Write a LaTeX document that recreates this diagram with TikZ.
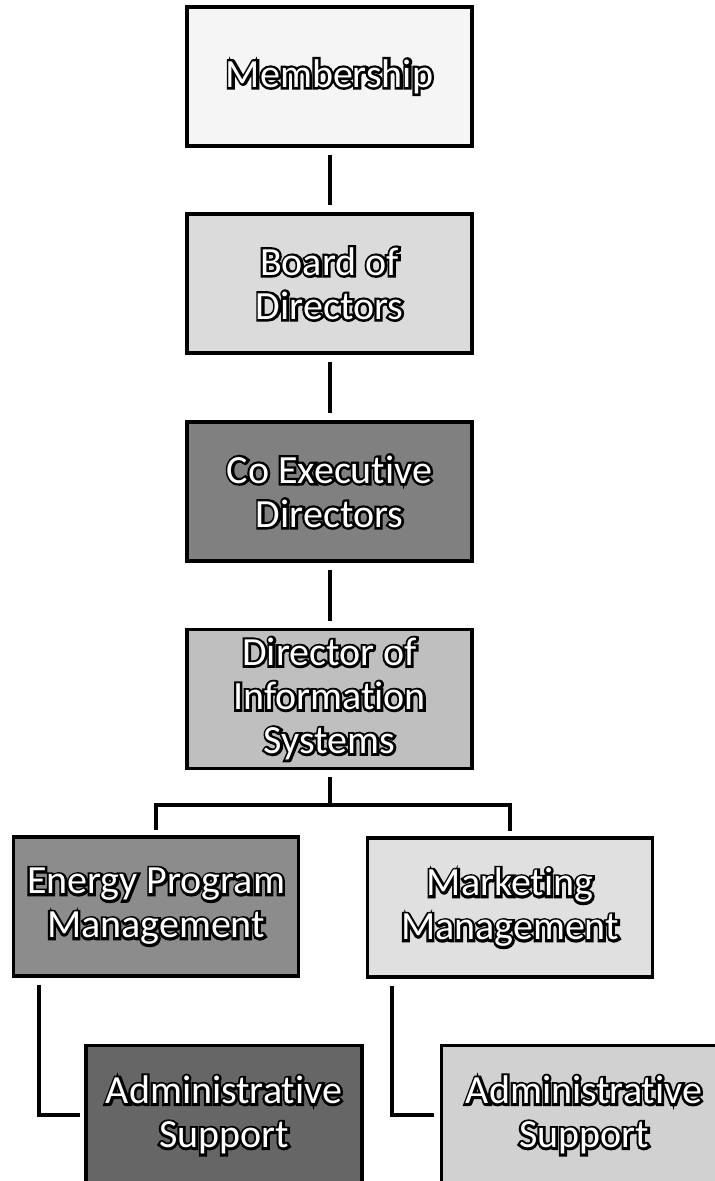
\documentclass[tikz,border=0pt]{standalone}
\usepackage{fontspec}
\setmainfont{Carlito}[Ligatures=NoCommon]
\newfontfamily\outfont{Carlito}[Ligatures=NoCommon, FakeBold=12]
\usetikzlibrary{calc}
\newcommand\olw[1]{\rlap{\outfont\textcolor{black}{#1}}\textcolor{white}{#1}}
\tikzset{
  orgbox/.style={draw=black, line width=3.5pt, minimum width=285pt, minimum height=139pt,
    inner sep=0pt, align=center, font=\fontsize{40}{44}\selectfont},
  conn/.style={draw=black, line width=4pt, shorten <=7pt, shorten >=7pt},
}
\begin{document}
\begin{tikzpicture}[x=1pt,y=-1pt]
\useasboundingbox (0,0) rectangle (715,1181);
\begin{scope}
\clip (0,0) rectangle (715,1181);
\node[orgbox, fill=black!4] (mem) at (329.5,76.5) {\olw{Membership}};
\node[orgbox, fill=black!14] (board) at (329.5,283.5) {\olw{Board of}\\\olw{Directors}};
\node[orgbox, fill=black!50] (coex) at (329.5,491.5) {\olw{Co Executive}\\\olw{Directors}};
\node[orgbox, fill=black!25] (dir) at (329.5,699) {\olw{Director of}\\\olw{Information}\\\olw{Systems}};
\node[orgbox, fill=black!45] (energy) at (156,906.5) {\olw{Energy Program}\\\olw{Management}};
\node[orgbox, fill=black!12] (mkt) at (510,907.5) {\olw{Marketing}\\\olw{Management}};
\node[orgbox, fill=black!60, minimum width=276pt] (admL) at (224,1115) {\olw{Administrative}\\\olw{Support}};
\node[orgbox, fill=black!18] (admR) at (584,1115) {\olw{Administrative}\\\olw{Support}};
\end{scope}
\draw[conn] (mem.south) -- (board.north);
\draw[conn] (board.south) -- (coex.north);
\draw[conn] (coex.south) -- (dir.north);
\coordinate (bus) at ($(dir.south)+(0,35)$);
\draw[conn, shorten >=0pt] (dir.south) -- (bus);
\draw[conn, shorten <=0pt, line cap=rect] (bus) -| (energy.north);
\draw[conn, shorten <=0pt, line cap=rect] (bus) -| (mkt.north);
\draw[conn, shorten >=4pt] ($(energy.south west)+(27,0)$) |- (admL.west);
\draw[conn, shorten >=6pt] ($(mkt.south west)+(26,0)$) |- (admR.west);
\end{tikzpicture}
\end{document}
